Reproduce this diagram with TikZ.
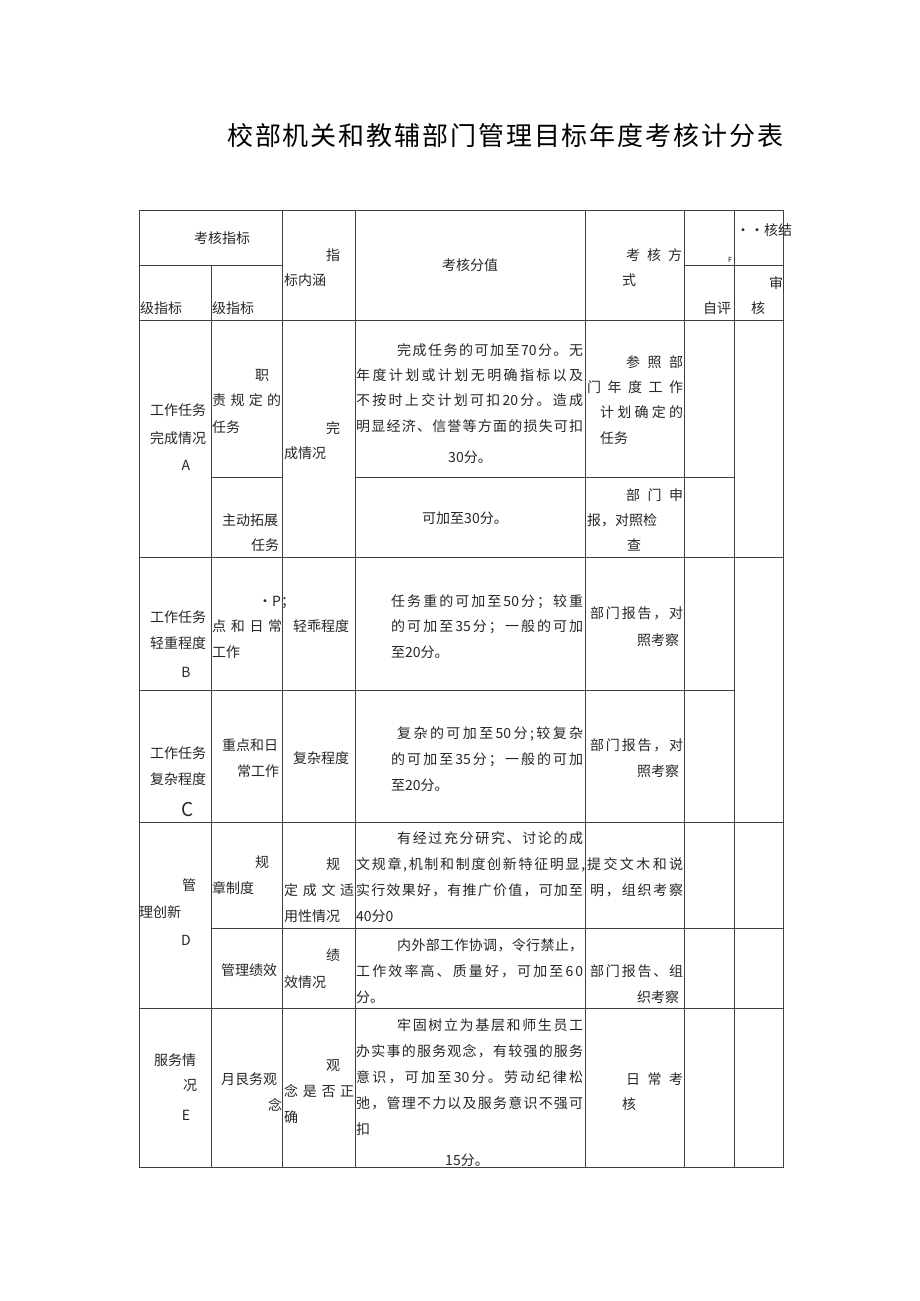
\documentclass[tikz,border=0pt]{standalone}
\usepackage{fontspec}
\setmainfont{Noto Sans CJK SC}
\def\spr#1#2\end{#1\ifx\relax#2\relax\else\hfil\spr#2\end\fi}
\begin{document}
\begin{tikzpicture}[x=1pt,y=-1pt,
  tl/.style={anchor=base west,inner sep=0pt,font=\fontsize{14}{14}\selectfont,text=black!85},
  tc/.style={anchor=base,inner sep=0pt,font=\fontsize{14}{14}\selectfont,text=black!85},
  grid/.style={draw=black!75,line width=0.8pt}]
\useasboundingbox (0,0) rectangle (920,1301);
\newcommand\T[3]{\node[tl] at (#1,#2) {#3};}
\newcommand\J[4]{\node[tl] at (#1,#2) {\hbox to #3pt{\spr#4\end}};}
\newcommand\Cc[3]{\node[tc] at (#1,#2) {#3};}
% title
\node[anchor=base west,inner sep=0pt,font=\fontsize{26}{26}\selectfont] (title) at (227,145) {\hbox to 556pt{\spr 校部机关和教辅部门管理目标年度考核计分表\end}};
% grid
\draw[grid] (139,210) rectangle (783,1167);
\draw[grid] (211,265) -- (211,1167);
\foreach \x in {282,355,585,684,734} \draw[grid] (\x,210) -- (\x,1167);
\draw[grid] (139,265) -- (282,265);
\draw[grid] (684,265) -- (783,265);
\draw[grid] (139,320) -- (783,320);
\draw[grid] (211,477) -- (282,477);
\draw[grid] (355,477) -- (734,477);
\draw[grid] (139,557) -- (783,557);
\draw[grid] (139,690) -- (734,690);
\draw[grid] (139,822) -- (783,822);
\draw[grid] (211,928) -- (783,928);
\draw[grid] (139,1008) -- (783,1008);
% header
\Cc{222}{243}{考核指标}
\T{326}{260}{指}
\T{284}{285}{标内涵}
\Cc{470}{270}{考核分值}
\J{626}{260}{56}{考核方}
\T{622}{285}{式}
\node[anchor=base,inner sep=0pt,font=\fontsize{7}{7}\selectfont] at (730,262) {F};
\T{736}{235}{••核结}
\T{140}{313}{级指标}
\T{212}{313}{级指标}
\T{703}{313}{自评}
\T{769}{288}{审}
\T{751}{313}{核}
% row A
\T{150}{415}{工作任务}
\T{150}{443}{完成情况}
\Cc{186}{470}{A}
\T{255}{380}{职}
\J{212}{405}{69}{责规定的}
\T{212}{432}{任务}
\T{326}{433}{完}
\T{284}{458}{成情况}
\J{397}{355}{186}{完成任务的可加至{70}分。无}
\J{356}{380}{227}{年度计划或计划无明确指标以及}
\J{356}{405}{227}{不按时上交计划可扣{20}分。造成}
\J{356}{431}{227}{明显经济、信誉等方面的损失可扣}
\Cc{470}{462}{30分。}
\J{626}{367}{57}{参照部}
\J{587}{392}{96}{门年度工作}
\J{600}{417}{83}{计划确定的}
\T{600}{443}{任务}
% row A2
\T{222}{525}{主动拓展}
\T{251}{550}{任务}
\Cc{465}{523}{可加至30分。}
\J{626}{500}{57}{部门申}
\T{587}{525}{报，对照检}
\T{627}{550}{查}
% row B
\T{150}{622}{工作任务}
\T{150}{648}{轻重程度}
\Cc{186}{677}{B}
\T{258}{606}{•P；}
\J{212}{631}{70}{点和日常}
\T{212}{657}{工作}
\T{293}{631}{轻乖程度}
\J{391}{606}{192}{任务重的可加至{50}分；较重}
\J{391}{631}{192}{的可加至{35}分；一般的可加}
\T{391}{657}{至20分。}
\J{590}{618}{93}{部门报告，对}
\T{637}{645}{照考察}
% row C
\T{150}{758}{工作任务}
\T{150}{784}{复杂程度}
\node[tc,font=\fontsize{19}{19}\selectfont] at (188,816) {C};
\T{222}{750}{重点和日}
\T{237}{776}{常工作}
\T{293}{763}{复杂程度}
\J{397}{738}{186}{复杂的可加至{50}分;较复杂}
\J{391}{764}{192}{的可加至{35}分；一般的可加}
\T{391}{790}{至20分。}
\J{590}{750}{93}{部门报告，对}
\T{637}{776}{照考察}
% row D1
\T{182}{890}{管}
\T{139}{917}{理创新}
\Cc{186}{945}{D}
\T{255}{867}{规}
\T{212}{893}{章制度}
\T{326}{869}{规}
\J{284}{895}{70}{定成文适}
\T{284}{921}{用性情况}
\J{397}{843}{186}{有经过充分研究、讨论的成}
\J{356}{869}{229}{文规章,机制和制度创新特征明显,}
\J{356}{895}{227}{实行效果好，有推广价值，可加至}
\T{356}{921}{40分0}
\J{587}{869}{96}{提交文木和说}
\J{590}{895}{93}{明，组织考察}
% row D2
\T{221}{975}{管理绩效}
\T{326}{960}{绩}
\T{284}{987}{效情况}
\J{397}{950}{186}{内外部工作协调，令行禁止，}
\J{356}{976}{227}{工作效率高、质量好，可加至{60}}
\T{356}{1002}{分。}
\J{590}{976}{93}{部门报告、组}
\T{637}{1002}{织考察}
% row E
\T{154}{1065}{服务情}
\T{183}{1090}{况}
\Cc{186}{1120}{E}
\T{221}{1084}{月艮务观}
\T{268}{1110}{念}
\T{326}{1070}{观}
\J{284}{1096}{70}{念是否正}
\T{284}{1122}{确}
\J{397}{1030}{186}{牢固树立为基层和师生员工}
\J{356}{1056}{227}{办实事的服务观念，有较强的服务}
\J{356}{1082}{227}{意识，可加至{30}分。劳动纪律松}
\J{356}{1108}{227}{弛，管理不力以及服务意识不强可}
\T{356}{1134}{扣}
\Cc{467}{1165}{15分。}
\J{626}{1084}{57}{日常考}
\T{622}{1109}{核}
\end{tikzpicture}
\end{document}
